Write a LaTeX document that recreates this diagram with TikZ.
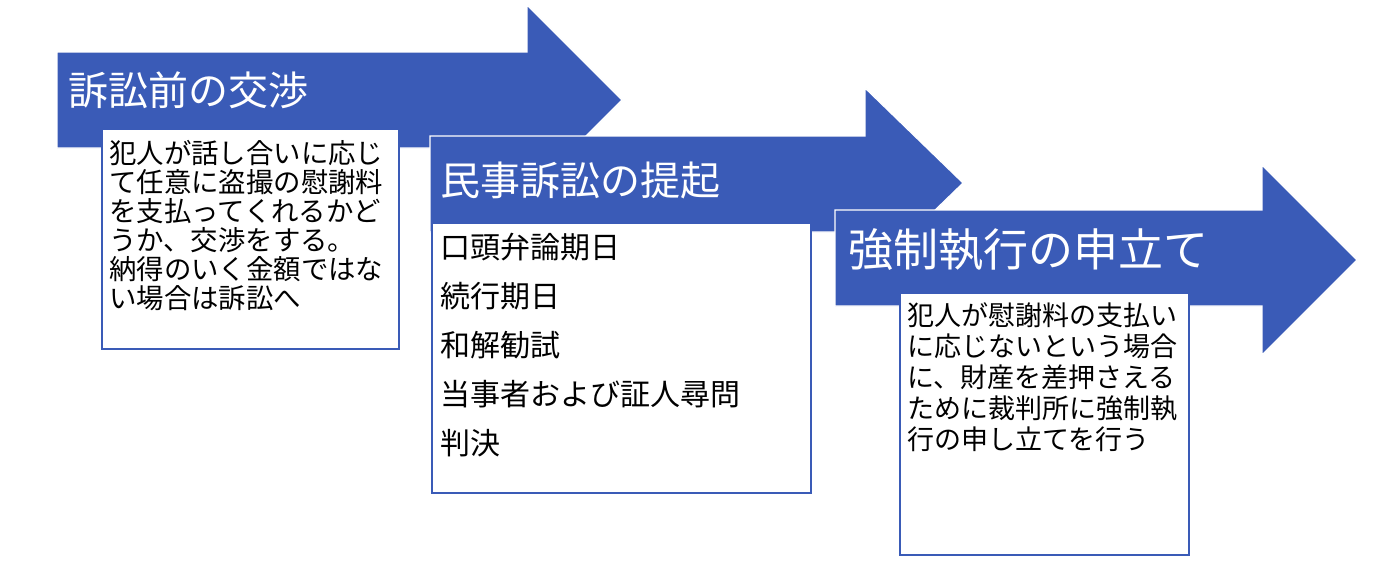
\documentclass[tikz,border=0pt]{standalone}
\usepackage{fontspec}
\setmainfont{Noto Sans CJK JP}
\usetikzlibrary{positioning}
\definecolor{stepblue}{RGB}{58,91,183}

\begin{document}
\begin{tikzpicture}[x=1pt, y=-1pt,
  band/.style={fill=stepblue, draw=white, line width=1.2pt},
  title/.style={text=white, anchor=west, inner sep=0pt},
  note/.style={draw=stepblue, fill=white, line width=1.5pt, anchor=north west,
    inner sep=0pt},
  notetext/.style={anchor=north west, inner sep=0pt, align=left}]
  \fill[white] (0,0) rectangle (1384,584);
  \useasboundingbox (0,0) rectangle (1384,584);

  % step 1
  \path[band] (57,52) -- (527,52) -- (527,5) -- (622,100) -- (527,195)
    -- (527,148) -- (57,148) -- cycle;
  \node[title, font=\fontsize{40}{40}\selectfont] (nego) at (68,90) {訴訟前の交渉};
  \node[note, minimum width=297pt, minimum height=220pt] (negobox) at (101,128) {};
  \node[notetext, font=\fontsize{27.4}{29}\selectfont] (negotext)
    at ([xshift=8pt, yshift=-12pt]negobox.north west)
    {犯人が話し合いに応じ\\て任意に盗撮の慰謝料\\を支払ってくれるかど\\うか、交渉をする。\\納得のいく金額ではな\\い場合は訴訟へ};

  % step 2
  \path[band] (430,136) -- (865,136) -- (865,88) -- (963,183) -- (865,278)
    -- (865,232) -- (430,232) -- cycle;
  \node[title, font=\fontsize{40}{40}\selectfont] (suit) at (440,180) {民事訴訟の提起};
  \node[note, minimum width=379pt, minimum height=270pt] (suitbox) at (431,222) {};
  \node[notetext, font=\fontsize{30}{49}\selectfont] (suittext)
    at ([xshift=9pt, yshift=-11pt]suitbox.north west)
    {口頭弁論期日\\続行期日\\和解勧試\\当事者および証人尋問\\判決};

  % step 3
  \path[band] (835,210) -- (1262,210) -- (1262,165) -- (1357,260) -- (1262,355)
    -- (1262,306) -- (835,306) -- cycle;
  \node[title, font=\fontsize{45}{45}\selectfont] (exec) at (848,250) {強制執行の申立て};
  \node[note, minimum width=289pt, minimum height=262pt] (execbox) at (899,292) {};
  \node[notetext, font=\fontsize{27}{31}\selectfont] (exectext)
    at ([xshift=8pt, yshift=-10pt]execbox.north west)
    {犯人が慰謝料の支払い\\に応じないという場合\\に、財産を差押さえる\\ために裁判所に強制執\\行の申し立てを行う};
\end{tikzpicture}
\end{document}
